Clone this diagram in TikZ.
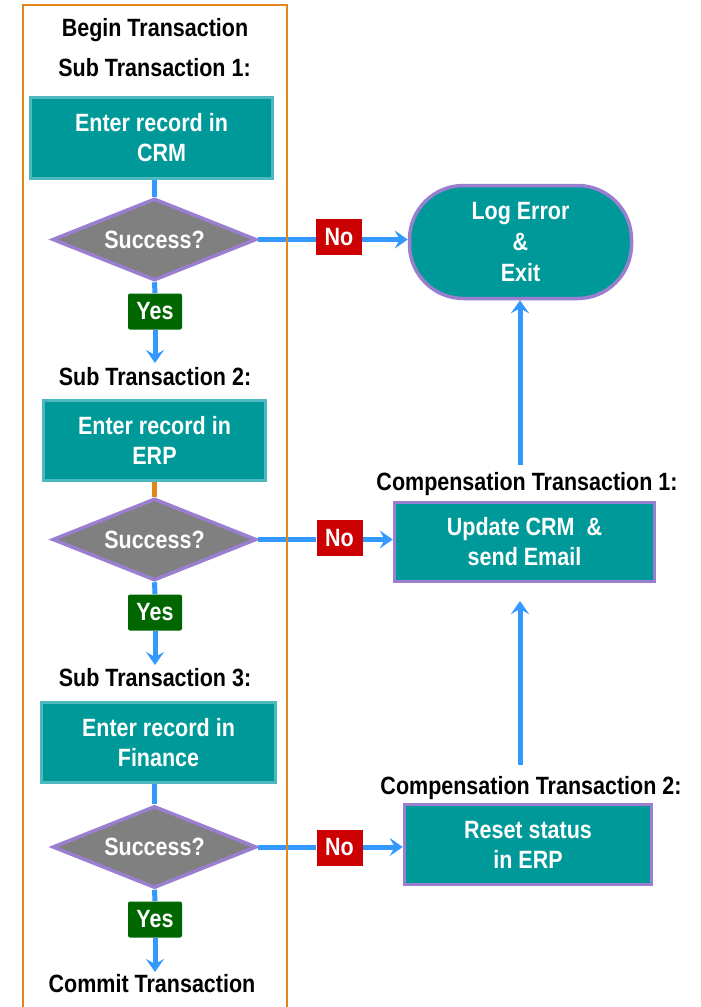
\documentclass[tikz,border=0pt]{standalone}
\usepackage{fontspec}
\setmainfont{Liberation Sans}[FakeStretch=0.86]
\usetikzlibrary{shapes.geometric,arrows.meta}
\definecolor{teal1}{HTML}{009999}
\definecolor{tealb}{HTML}{4DB8BE}
\definecolor{purp}{HTML}{9A7FD1}
\definecolor{graydia}{HTML}{808080}
\definecolor{blu}{HTML}{3399FF}
\definecolor{orng}{HTML}{E0861A}
\definecolor{redno}{HTML}{CC0000}
\definecolor{grnyes}{HTML}{006600}
\begin{document}
\begin{tikzpicture}[x=1pt,y=-1pt,
 txt/.style={font=\bfseries\fontsize{25}{30}\selectfont},
 lbl/.style={txt, text=black, inner sep=0, anchor=base},
 procbox/.style={txt, text=white, fill=teal1, draw=tealb, line width=3pt, align=center, inner sep=0},
 compbox/.style={procbox, draw=purp, line width=3.5pt},
 decision/.style={diamond, aspect=2.4, fill=graydia, draw=purp, line width=3.5pt, txt, text=white, inner sep=0, minimum width=204pt, minimum height=82pt},
 yesbox/.style={txt, text=white, fill=grnyes, rounded corners=2pt, minimum width=54pt, minimum height=36pt, inner sep=0},
 nobox/.style={txt, text=white, fill=redno, minimum width=46pt, minimum height=36pt, inner sep=0},
 flow/.style={draw=blu, line width=5pt},
 arr/.style={flow, -{Stealth[length=13pt,width=18pt,inset=5pt]}},
]
\useasboundingbox (0,0) rectangle (701,1007);

% left column
\node[lbl] (begin) at (155,36) {Begin Transaction};
\node[lbl] (st1) at (154.5,76) {Sub Transaction 1:};
\node[procbox, minimum width=242pt, minimum height=81pt] (b1) at (151.5,138) {Enter record in\\\hspace{20pt}CRM};
\node[decision] (d1) at (154.5,239.5) {Success?};
\node[yesbox] (y1) at (155,311.5) {Yes};
\coordinate (e1) at (155,363);
\node[lbl] (st2) at (155,385) {Sub Transaction 2:};
\node[procbox, minimum width=222pt, minimum height=80pt] (b2) at (154.5,440.5) {Enter record in\\ERP};
\node[decision] (d2) at (154.5,539.5) {Success?};
\node[yesbox] (y2) at (155,612.5) {Yes};
\coordinate (e2) at (155,665);
\node[lbl] (st3) at (155,686) {Sub Transaction 3:};
\node[procbox, minimum width=234pt, minimum height=80pt] (b3) at (158.5,742.5) {Enter record in\\Finance};
\node[decision] (d3) at (154.5,847) {Success?};
\node[yesbox] (y3) at (155,919.5) {Yes};
\coordinate (e3) at (155,972);
\node[lbl] (commit) at (152,992) {Commit Transaction};

% right column
\node[txt, font=\bfseries\fontsize{25}{31}\selectfont, text=white, fill=teal1, draw=purp, line width=3.5pt, align=center, inner sep=0, minimum width=222pt, minimum height=113pt, rounded corners=54pt] (log) at (520.5,242) {Log Error\\\&\\Exit};
\node[lbl] (ct1l) at (527,490) {Compensation Transaction 1:};
\node[compbox, minimum width=260pt, minimum height=79pt] (ct1) at (524.5,542) {Update CRM\ \ \&\\send Email};
\node[lbl] (ct2l) at (531,794) {Compensation Transaction 2:};
\node[compbox, minimum width=247pt, minimum height=80pt] (ct2) at (528,844.5) {Reset status\\in ERP};

\node[nobox] (n1) at (339,237) {No};
\node[nobox] (n2) at (339.5,538) {No};
\node[nobox] (n3) at (339.5,847.5) {No};

\coordinate (c1) at (520,465);
\coordinate (c2) at (520,765);
\coordinate (c2tip) at (520,601);

% connectors
\draw[flow] (d1.north |- b1.south) -- (d1.north);
\draw[flow] (d1.south) -- (y1.north);
\draw[arr] (y1.south) -- (e1);
\draw[draw=orng, line width=5pt] (b2.south) -- (d2.north);
\draw[flow] (d2.south) -- (y2.north);
\draw[arr] (y2.south) -- (e2);
\draw[flow] (d3.north |- b3.south) -- (d3.north);
\draw[flow] (d3.south) -- (y3.north);
\draw[arr] (y3.south) -- (e3);

\draw[flow] (d1.east) -- (d1.east -| n1.west);
\draw[arr] (d1.east -| n1.east) -- (d1.east -| log.west);
\draw[flow] (d2.east) -- (d2.east -| n2.west);
\draw[arr] (d2.east -| n2.east) -- (d2.east -| ct1.west);
\draw[flow] (d3.east) -- (d3.east -| n3.west);
\draw[arr] (d3.east -| n3.east) -- (d3.east -| ct2.west);

\draw[arr] (c1) -- (c1 |- log.south);
\draw[arr] (c2) -- (c2tip);

% frame
\draw[draw=orng, line width=2.5pt] (23,1007) -- (23,5) -- (287,5) -- (287,1007);
\end{tikzpicture}
\end{document}
